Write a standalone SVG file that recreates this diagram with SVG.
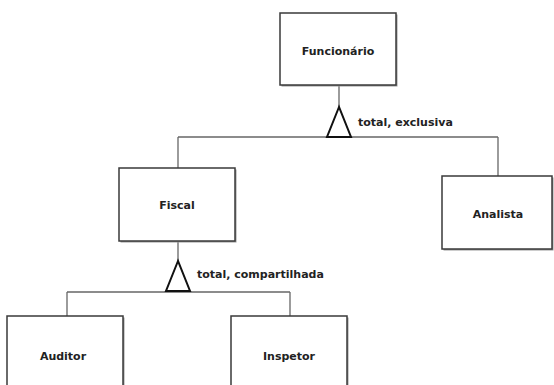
<svg xmlns="http://www.w3.org/2000/svg" width="554" height="385" viewBox="0 0 554 385">
<style>
.shadow{fill:#9a9a9a;stroke:none}
.box{fill:#fff;stroke:#3a3a3a;stroke-width:1.5}
.lbl{font-family:"DejaVu Sans",Verdana,sans-serif;font-weight:bold;font-size:11px;fill:#222;text-anchor:middle}
.note{font-family:"DejaVu Sans",Verdana,sans-serif;font-weight:bold;font-size:11px;fill:#222}
.ln{stroke:#666;stroke-width:1.3;fill:none}
.tri{fill:#fff;stroke:#111;stroke-width:2;stroke-linejoin:miter}
</style>
<rect width="554" height="385" fill="#fff"/>
<g id="connectors">
  <line class="ln" x1="339" y1="85" x2="339" y2="108"/>
  <line class="ln" x1="178" y1="137" x2="498" y2="137"/>
  <line class="ln" x1="178" y1="137" x2="178" y2="168"/>
  <line class="ln" x1="498" y1="137" x2="498" y2="176"/>
  <polygon class="tri" points="339,107 327,137 351,137"/>
  <text class="note" x="358" y="126">total, exclusiva</text>
  <line class="ln" x1="178" y1="241" x2="178" y2="262"/>
  <line class="ln" x1="67" y1="292" x2="290" y2="292"/>
  <line class="ln" x1="67" y1="292" x2="67" y2="316"/>
  <line class="ln" x1="290" y1="292" x2="290" y2="316"/>
  <polygon class="tri" points="178,261 166,291 190,291"/>
  <text class="note" x="197" y="278">total, compartilhada</text>
</g>
<g id="funcionario">
  <rect class="shadow" x="281.5" y="14.5" width="116" height="72"/>
  <rect class="box" x="280" y="13" width="116" height="72"/>
  <text class="lbl" x="338" y="55">Funcionário</text>
</g>
<g id="fiscal">
  <rect class="shadow" x="120.5" y="169.5" width="116" height="73"/>
  <rect class="box" x="119" y="168" width="116" height="73"/>
  <text class="lbl" x="177" y="209">Fiscal</text>
</g>
<g id="analista">
  <rect class="shadow" x="443.5" y="177.5" width="110" height="73"/>
  <rect class="box" x="442" y="176" width="110" height="73"/>
  <text class="lbl" x="498" y="218">Analista</text>
</g>
<g id="auditor">
  <rect class="shadow" x="8.5" y="317.5" width="116" height="80"/>
  <rect class="box" x="7" y="316" width="116" height="80"/>
  <text class="lbl" x="63" y="360">Auditor</text>
</g>
<g id="inspetor">
  <rect class="shadow" x="232.5" y="317.5" width="116" height="80"/>
  <rect class="box" x="231" y="316" width="116" height="80"/>
  <text class="lbl" x="289" y="360">Inspetor</text>
</g>
</svg>
